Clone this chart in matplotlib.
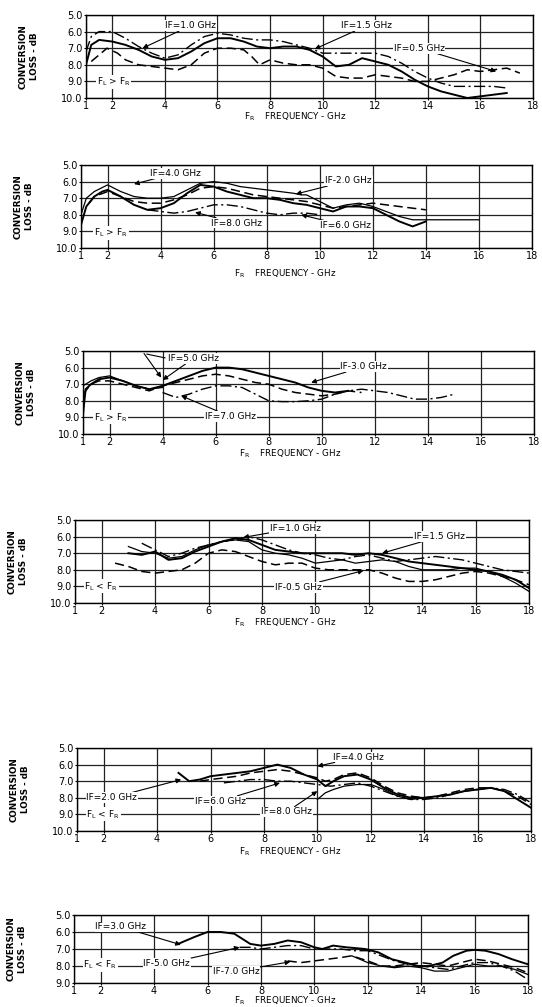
import matplotlib
matplotlib.use('Agg')

import matplotlib.pyplot as plt

# ------------------------------------------------------------
# data (GHz, dB)
# ------------------------------------------------------------
x_ticks = [1, 2, 4, 6, 8, 10, 12, 14, 16, 18]

# panel 1: F_L > F_R, IF = 1.0 / 1.5 / 0.5 GHz
p1_x = [1.0, 1.2, 1.5, 2, 2.5, 3, 3.5, 4, 4.5, 5, 5.5, 6, 6.5, 7, 7.5, 8, 8.5,
        9, 9.5, 10, 10.5, 11, 11.5, 12, 12.5, 13, 13.5, 14, 14.5, 15, 15.5, 16,
        16.5, 17]
p1_if10 = [8.0, 6.8, 6.5, 6.6, 6.8, 7.1, 7.5, 7.7, 7.6, 7.2, 6.7, 6.4, 6.4, 6.6,
           6.9, 7.0, 6.9, 6.9, 7.1, 7.5, 8.1, 8.0, 7.6, 7.8, 8.0, 8.4, 8.9, 9.3,
           9.6, 9.8, 10.0, 9.9, 9.8, 9.7]
p1_if15 = [7.2, 6.3, 6.0, 6.0, 6.4, 6.9, 7.3, 7.6, 7.4, 6.8, 6.3, 6.1, 6.2, 6.4,
           6.5, 6.5, 6.6, 6.8, 7.0, 7.3, 7.3, 7.3, 7.3, 7.3, 7.5, 7.9, 8.4, 8.8,
           9.1, 9.3, 9.3, 9.3, 9.3, 9.4]
p1_x05 = [1.2, 1.5, 1.8, 2.2, 2.5, 3, 3.5, 4, 4.5, 5, 5.5, 6, 6.5, 7, 7.3, 7.6, 8,
          8.5, 9, 9.5, 10, 10.5, 11, 11.5, 12, 12.5, 13, 13.5, 14, 14.5, 15, 15.5,
          16, 16.5, 17, 17.5]
p1_if05 = [7.8, 7.4, 7.0, 7.3, 7.7, 8.0, 8.1, 8.2, 8.3, 8.0, 7.3, 7.0, 7.0, 7.1,
           7.5, 8.0, 7.7, 7.9, 8.0, 8.0, 8.2, 8.7, 8.8, 8.8, 8.6, 8.7, 8.8, 9.0,
           9.0, 8.8, 8.6, 8.3, 8.4, 8.3, 8.2, 8.5]

# panel 2: F_L > F_R, IF = 4.0 / 2.0 / 6.0 / 8.0 GHz
p2_x40 = [1.0, 1.2, 1.5, 1.8, 2.0, 2.5, 3.0, 3.5, 4.0, 4.5, 5.0, 5.5, 6.0, 6.5,
          7.0, 7.5, 8.0, 8.5, 9.0, 9.5, 10.0, 10.5, 11.0, 11.5, 12.0, 12.5, 13.0,
          13.5, 14.0]
p2_if40 = [8.6, 7.5, 6.9, 6.6, 6.5, 6.9, 7.4, 7.7, 7.6, 7.3, 6.7, 6.2, 6.3, 6.6,
           6.8, 7.0, 7.0, 7.1, 7.3, 7.4, 7.6, 7.8, 7.5, 7.5, 7.6, 8.0, 8.4, 8.7,
           8.4]
p2_x20 = [1.0, 1.2, 1.5, 2.0, 2.5, 3.0, 3.5, 4.0, 4.5, 5.0, 5.5, 6.0, 6.5, 7.0,
          7.5, 8.0, 8.5, 9.0, 9.3, 9.5, 10.0, 10.5, 11.0, 11.5, 12.0, 12.5, 13.0,
          13.5, 14.0, 15.0, 16.0]
p2_if20 = [8.0, 7.0, 6.6, 6.2, 6.6, 6.9, 7.0, 7.0, 6.9, 6.5, 6.1, 6.0, 6.1, 6.3,
           6.4, 6.5, 6.6, 6.7, 6.8, 6.8, 7.2, 7.6, 7.4, 7.3, 7.5, 7.8, 8.1, 8.3,
           8.3, 8.3, 8.3]
p2_x60 = [1.3, 1.5, 2.0, 2.5, 3.0, 3.5, 4.0, 4.5, 5.0, 5.5, 6.0, 6.5, 7.0, 7.5,
          8.0, 8.5, 9.0, 9.5, 10.0, 10.5, 11.0, 11.5, 12.0, 12.5, 13.0, 13.5, 14.0]
p2_if60 = [7.3, 6.9, 6.6, 6.9, 7.2, 7.3, 7.3, 7.1, 6.8, 6.4, 6.3, 6.4, 6.6, 6.8,
           6.9, 7.0, 7.1, 7.2, 7.4, 7.6, 7.5, 7.4, 7.3, 7.4, 7.5, 7.6, 7.7]
p2_x80 = [3.5, 4.0, 4.5, 5.0, 5.5, 6.0, 6.5, 7.0, 7.5, 8.0, 8.5, 9.0, 9.5, 10.0]
p2_if80 = [7.7, 7.8, 7.9, 7.8, 7.6, 7.4, 7.4, 7.5, 7.7, 7.9, 8.0, 7.9, 7.9, 8.0]

# panel 3: F_L > F_R, IF = 3.0 / 5.0 / 7.0 GHz
p3_x30 = [1.0, 1.1, 1.3, 1.6, 2.0, 2.5, 3.0, 3.5, 4.0, 4.5, 5.0, 5.5, 6.0, 6.5,
          7.0, 7.5, 8.0, 8.5, 9.0, 9.5, 10.0, 10.5, 11.0]
p3_if30 = [8.8, 7.3, 7.0, 6.7, 6.6, 6.8, 7.1, 7.3, 7.1, 6.8, 6.5, 6.2, 6.0, 6.0,
           6.1, 6.3, 6.5, 6.7, 6.9, 7.2, 7.4, 7.5, 7.4]
p3_x50 = [1.0, 1.3, 1.6, 2.0, 2.5, 3.0, 3.5, 4.0, 4.5, 5.0, 5.5, 6.0, 6.5, 7.0,
          7.5, 8.0, 8.5, 9.0, 9.5, 10.0, 10.5, 11.0, 11.5]
p3_if50 = [7.6, 7.0, 6.8, 6.8, 7.0, 7.2, 7.4, 7.1, 6.9, 6.7, 6.5, 6.4, 6.5, 6.7,
           6.9, 7.0, 7.3, 7.5, 7.6, 7.7, 7.6, 7.4, 7.5]
p3_x50b = [1.0, 1.3, 1.6, 2.0, 2.5, 3.0, 3.5, 4.0]
p3_if50b = [7.1, 6.8, 6.6, 6.5, 6.8, 7.1, 7.3, 7.2]
p3_x70 = [4.0, 4.5, 5.0, 5.5, 6.0, 6.5, 7.0, 7.5, 8.0, 8.5, 9.0, 9.5, 10.0, 10.5,
          11.0, 11.5, 12.0, 12.5, 13.0, 13.5, 14.0, 14.5, 15.0]
p3_if70 = [7.5, 7.8, 7.6, 7.3, 7.1, 7.1, 7.2, 7.6, 8.0, 8.05, 8.05, 8.0, 7.9, 7.6,
           7.4, 7.3, 7.4, 7.5, 7.7, 7.9, 7.9, 7.8, 7.6]

# panel 4: F_L < F_R, IF = 1.0 / 1.5 / 0.5 GHz
p4_x = [3.0, 3.5, 4.0, 4.5, 5.0, 5.5, 6.0, 6.5, 7.0, 7.5, 8.0, 8.5, 9.0, 9.5,
        10.0, 10.5, 11.0, 11.5, 12.0, 12.5, 13.0, 13.5, 14.0, 14.5, 15.0, 15.5,
        16.0, 16.5, 17.0, 17.5, 18.0]
p4_if10 = [7.0, 7.1, 6.9, 7.4, 7.3, 6.9, 6.6, 6.3, 6.1, 6.2, 6.5, 6.8, 6.9, 7.0,
           7.0, 7.0, 7.0, 7.1, 7.0, 7.1, 7.3, 7.5, 7.6, 7.7, 7.8, 7.9, 8.0, 8.1,
           8.3, 8.6, 9.1]
p4_if15 = [6.6, 6.9, 7.0, 7.3, 7.2, 6.8, 6.5, 6.3, 6.2, 6.3, 6.8, 7.0, 7.1, 7.3,
           7.6, 7.5, 7.4, 7.6, 7.5, 7.4, 7.5, 7.8, 8.0, 8.0, 8.0, 7.9, 7.9, 8.1,
           8.4, 8.8, 9.3]
p4_x05 = [2.5, 3.0, 3.5, 4.0, 4.5, 5.0, 5.5, 6.0, 6.5, 7.0, 7.5, 8.0, 8.5, 9.0,
          9.5, 10.0, 10.5, 11.0, 11.5, 12.0, 12.5, 13.0, 13.5, 14.0, 14.5, 15.0,
          15.5, 16.0, 16.5, 17.0, 17.5, 18.0]
p4_if05 = [7.6, 7.8, 8.1, 8.2, 8.1, 8.0, 7.6, 7.0, 6.8, 6.9, 7.2, 7.5, 7.7, 7.6,
           7.6, 7.9, 8.0, 8.0, 8.0, 8.0, 8.2, 8.5, 8.7, 8.7, 8.6, 8.4, 8.2, 8.1,
           8.2, 8.4, 8.6, 8.9]
p4_xdd = [3.5, 4.0, 4.5, 5.0, 5.5, 6.0, 6.5, 7.0, 7.5, 8.0, 8.5, 9.0, 9.5, 10.0,
          10.5, 11.0, 11.5, 12.0, 12.5, 13.0, 13.5, 14.0, 14.5, 15.0, 15.5, 16.0,
          16.5, 17.0, 17.5, 18.0]
p4_ifdd = [6.4, 6.8, 7.2, 7.0, 6.7, 6.5, 6.3, 6.2, 6.0, 6.2, 6.5, 6.8, 7.0, 7.1,
           7.3, 7.4, 7.2, 7.1, 7.3, 7.5, 7.4, 7.3, 7.2, 7.3, 7.4, 7.6, 7.8, 8.0,
           8.1, 8.2]

# panel 5: F_L < F_R, IF = 4.0 / 2.0 / 6.0 / 8.0 GHz
p5_x40 = [4.8, 5.2, 5.6, 6.0, 6.5, 7.0, 7.5, 8.0, 8.5, 9.0, 9.5, 10.0, 10.3,
          10.6, 11.0, 11.5, 12.0, 12.5, 13.0, 13.5, 14.0, 14.5, 15.0, 15.5, 16.0,
          16.5, 17.0, 17.5, 18.0]
p5_if40 = [6.5, 7.0, 6.9, 6.7, 6.6, 6.5, 6.4, 6.2, 6.0, 6.2, 6.6, 6.9, 7.3, 7.0,
           6.7, 6.6, 6.9, 7.4, 7.8, 8.0, 8.0, 7.9, 7.8, 7.6, 7.5, 7.4, 7.6, 8.1,
           8.6]
p5_x60 = [5.6, 6.0, 6.5, 7.0, 7.5, 8.0, 8.5, 9.0, 9.5, 10.0, 10.3, 10.6, 11.0,
          11.5, 12.0, 12.5, 13.0, 13.5, 14.0, 14.5, 15.0, 15.5, 16.0, 16.5, 17.0,
          17.5, 18.0]
p5_if60 = [7.0, 6.9, 6.8, 6.7, 6.5, 6.4, 6.3, 6.4, 6.6, 6.8, 7.0, 6.9, 6.6, 6.5,
           6.8, 7.3, 7.7, 7.9, 8.0, 7.9, 7.7, 7.5, 7.4, 7.4, 7.6, 7.9, 8.4]
p5_x20 = [6.5, 7.0, 7.5, 8.0, 8.5, 9.0, 9.5, 10.0, 10.5, 11.0, 11.5, 12.0, 12.5,
          13.0, 13.5, 14.0, 14.5, 15.0, 15.5, 16.0, 16.5, 17.0, 17.5, 18.0]
p5_if20 = [7.1, 7.0, 6.9, 6.9, 7.0, 7.0, 7.1, 7.2, 7.3, 7.2, 7.1, 7.3, 7.6, 7.9,
           8.1, 8.1, 8.0, 7.8, 7.6, 7.5, 7.4, 7.5, 7.8, 8.3]
p5_x80 = [10.0, 10.3, 10.6, 11.0, 11.5, 12.0, 12.5, 13.0, 13.5, 14.0]
p5_if80 = [8.1, 7.7, 7.5, 7.3, 7.2, 7.2, 7.5, 7.9, 8.1, 8.0]

# panel 6: F_L < F_R, IF = 3.0 / 5.0 / 7.0 GHz
p6_x30 = [4.9, 5.2, 5.5, 6.0, 6.5, 7.0, 7.3, 7.6, 8.0, 8.5, 9.0, 9.5, 10.0, 10.3,
          10.7, 11.2, 11.9, 12.4, 12.9, 13.4, 13.9, 14.3, 14.8, 15.2, 15.7, 16.0,
          16.4, 16.9, 17.4, 18.0]
p6_if30 = [6.7, 6.5, 6.3, 6.0, 6.0, 6.1, 6.4, 6.7, 6.8, 6.7, 6.5, 6.6, 6.9, 7.0,
           6.8, 6.9, 7.0, 7.2, 7.6, 7.8, 8.0, 8.0, 7.8, 7.4, 7.1, 7.05, 7.1, 7.3,
           7.6, 7.9]
p6_x50 = [7.2, 7.6, 8.0, 8.5, 9.0, 9.5, 10.0, 10.5, 11.0, 11.5, 12.0, 12.5, 13.0,
          13.5, 14.0, 14.5, 15.0, 15.5, 16.0, 16.5, 17.0, 17.5, 18.0]
p6_if50 = [6.9, 6.9, 7.0, 6.9, 6.8, 6.8, 7.0, 7.0, 7.0, 7.1, 7.1, 7.4, 7.7, 7.9,
           8.0, 8.1, 8.2, 8.0, 7.8, 7.8, 8.0, 8.3, 8.8]
p6_x70 = [9.0, 9.5, 10.0, 10.5, 11.0, 11.4, 12.0, 12.5, 13.0, 13.5, 14.0, 14.5,
          15.0, 15.5, 16.0, 16.5, 17.0, 17.5, 18.0]
p6_if70 = [7.7, 7.8, 7.7, 7.6, 7.5, 7.4, 7.7, 8.0, 8.0, 7.9, 7.8, 7.9, 8.0, 7.8,
           7.6, 7.7, 7.9, 8.1, 8.4]
p6_x70b = [11.4, 12.0, 12.5, 13.0, 13.5, 14.0, 14.5, 15.0, 15.5, 16.0, 16.5,
           17.0, 17.5, 18.0]
p6_if70b = [7.4, 7.8, 8.0, 8.1, 8.0, 8.1, 8.3, 8.3, 8.1, 7.9, 8.0, 8.0, 8.2, 8.5]

# ------------------------------------------------------------
# styles
# ------------------------------------------------------------
SOLID = dict(color='k', lw=1.4, ls='-')
THIN = dict(color='k', lw=0.9, ls='-')
DASH = dict(color='k', lw=1.1, ls=(0, (6, 3)))
DDOT = dict(color='k', lw=1.0, ls=(0, (8, 2.5, 1.5, 2.5)))

W, H = 542, 1007
fig = plt.figure(figsize=(W / 100, H / 100), dpi=100)
fig.patch.set_facecolor('white')


def add_panel(l, t, r, b, ymax=10):
    ax = fig.add_axes([l / W, 1 - b / H, (r - l) / W, (b - t) / H])
    ax.set_xlim(1, 18)
    ax.set_ylim(ymax, 5)
    ax.set_xticks(x_ticks)
    ax.set_xticklabels([str(v) for v in x_ticks])
    yt = list(range(5, ymax + 1))
    ax.set_yticks(yt)
    ax.set_yticklabels([f"{v:.1f}" for v in yt])
    ax.tick_params(labelsize=7, length=1.5, width=0.8, pad=1)
    ax.grid(True, color='#222222', lw=0.9)
    ax.set_axisbelow(True)
    for s in ax.spines.values():
        s.set_linewidth(1.0)
    # axis titles
    fig.text((l - 57) / W, 1 - (t + b) / 2 / H, "CONVERSION\nLOSS - dB",
             rotation=90, ha='center', va='center', fontsize=6.3,
             linespacing=1.4, fontweight='bold')
    return ax


def xlabel(xc, yc):
    fig.text(xc / W, 1 - yc / H, r"F$_\mathregular{R}$    FREQUENCY - GHz",
             ha='center', va='center', fontsize=6.3)


def tag(ax, text, xy_text, xy_arrow=None, ha='left'):
    bb = dict(fc='white', ec='none', pad=0.6)
    if xy_arrow is None:
        ax.text(*xy_text, text, ha=ha, va='center', fontsize=6.5, bbox=bb,
                zorder=5)
    else:
        ax.annotate(text, xy=xy_arrow, xytext=xy_text, ha=ha, va='center',
                    fontsize=6.5, bbox=bb, zorder=5,
                    arrowprops=dict(arrowstyle='-|>', color='k', lw=0.8,
                                    mutation_scale=7, shrinkA=0, shrinkB=0))


FLR = r"F$_\mathregular{L}$ > F$_\mathregular{R}$"
FLLR = r"F$_\mathregular{L}$ < F$_\mathregular{R}$"

# ---------------- panel 1 ----------------
ax1 = add_panel(86, 15, 533, 98)
ax1.plot(p1_x, p1_if10, **SOLID)
ax1.plot(p1_x, p1_if15, **DDOT)
ax1.plot(p1_x05, p1_if05, **DASH)
tag(ax1, "IF=1.0 GHz", (4.0, 5.65), (3.15, 7.0))
tag(ax1, "IF=1.5 GHz", (10.7, 5.65), (9.7, 7.05))
tag(ax1, "IF=0.5 GHz", (12.7, 7.0), (16.6, 8.4))
tag(ax1, FLR, (1.4, 9.05))
xlabel(295, 117)

# ---------------- panel 2 ----------------
ax2 = add_panel(81, 165, 532, 248)
ax2.plot(p2_x40, p2_if40, **SOLID)
ax2.plot(p2_x20, p2_if20, **THIN)
ax2.plot(p2_x60, p2_if60, **DASH)
ax2.plot(p2_x80, p2_if80, **DDOT)
tag(ax2, "IF=4.0 GHz", (3.6, 5.5), (3.0, 6.15))
tag(ax2, "IF-2.0 GHz", (10.2, 5.95), (9.1, 6.75))
tag(ax2, "IF=8.0 GHz", (5.9, 8.5), (5.3, 7.85))
tag(ax2, "IF=6.0 GHz", (10.0, 8.65), (9.3, 8.0))
tag(ax2, FLR, (1.5, 9.1))
xlabel(285, 274)

# ---------------- panel 3 ----------------
ax3 = add_panel(83, 351, 534, 434)
ax3.plot(p3_x30, p3_if30, **SOLID)
ax3.plot(p3_x50, p3_if50, **DASH)
ax3.plot(p3_x50b, p3_if50b, **THIN)
ax3.plot(p3_x70, p3_if70, **DDOT)
tag(ax3, "IF=5.0 GHz", (4.2, 5.45), (4.0, 6.75))
ax3.annotate("", xy=(3.3, 5.15), xytext=(4.2, 5.45),
             arrowprops=dict(arrowstyle='-', color='k', lw=0.8))
ax3.annotate("", xy=(3.95, 6.6), xytext=(3.3, 5.15),
             arrowprops=dict(arrowstyle='-|>', color='k', lw=0.8,
                             mutation_scale=7, shrinkA=0, shrinkB=0))
tag(ax3, "IF-3.0 GHz", (10.7, 5.95), (9.6, 6.9))
tag(ax3, "IF=7.0 GHz", (5.6, 8.95), (4.7, 7.7))
tag(ax3, FLR, (1.4, 9.0))
xlabel(290, 454)

# ---------------- panel 4 ----------------
ax4 = add_panel(75, 520, 529, 603)
ax4.plot(p4_x, p4_if10, **SOLID)
ax4.plot(p4_x, p4_if15, **THIN)
ax4.plot(p4_x05, p4_if05, **DASH)
ax4.plot(p4_xdd, p4_ifdd, **DDOT)
tag(ax4, "IF=1.0 GHz", (8.3, 5.5), (7.3, 6.05))
tag(ax4, "IF=1.5 GHz", (13.7, 6.0), (12.5, 7.0))
tag(ax4, "IF-0.5 GHz", (8.5, 9.05), (11.8, 8.05))
tag(ax4, FLLR, (1.35, 9.0))
xlabel(285, 623)

# ---------------- panel 5 ----------------
ax5 = add_panel(77, 748, 531, 831)
ax5.plot(p5_x40, p5_if40, **SOLID)
ax5.plot(p5_x60, p5_if60, **DASH)
ax5.plot(p5_x20, p5_if20, **DDOT)
ax5.plot(p5_x80, p5_if80, **THIN)
tag(ax5, "IF=4.0 GHz", (10.6, 5.55), (10.0, 6.1))
tag(ax5, "IF=2.0 GHz", (1.35, 8.0), (4.9, 6.9))
tag(ax5, "IF=6.0 GHz", (5.4, 8.2), (8.6, 7.1))
tag(ax5, "IF=8.0 GHz", (7.9, 8.85), (10.0, 7.6))
tag(ax5, FLLR, (1.35, 9.0))
xlabel(290, 852)

# ---------------- panel 6 ----------------
ax6 = add_panel(74, 915, 528, 983, ymax=9)
ax6.plot(p6_x30, p6_if30, **SOLID)
ax6.plot(p6_x50, p6_if50, **DDOT)
ax6.plot(p6_x70, p6_if70, **DASH)
ax6.plot(p6_x70b, p6_if70b, **THIN)
tag(ax6, "IF=3.0 GHz", (1.8, 5.7), (5.0, 6.75))
tag(ax6, "IF-5.0 GHz", (3.6, 7.85), (7.2, 6.9))
tag(ax6, "IF-7.0 GHz", (6.2, 8.3), (9.1, 7.75))
tag(ax6, FLLR, (1.35, 7.95))
xlabel(285, 1001)

fig.savefig("out.png", dpi=100, facecolor='white')
plt.close(fig)
